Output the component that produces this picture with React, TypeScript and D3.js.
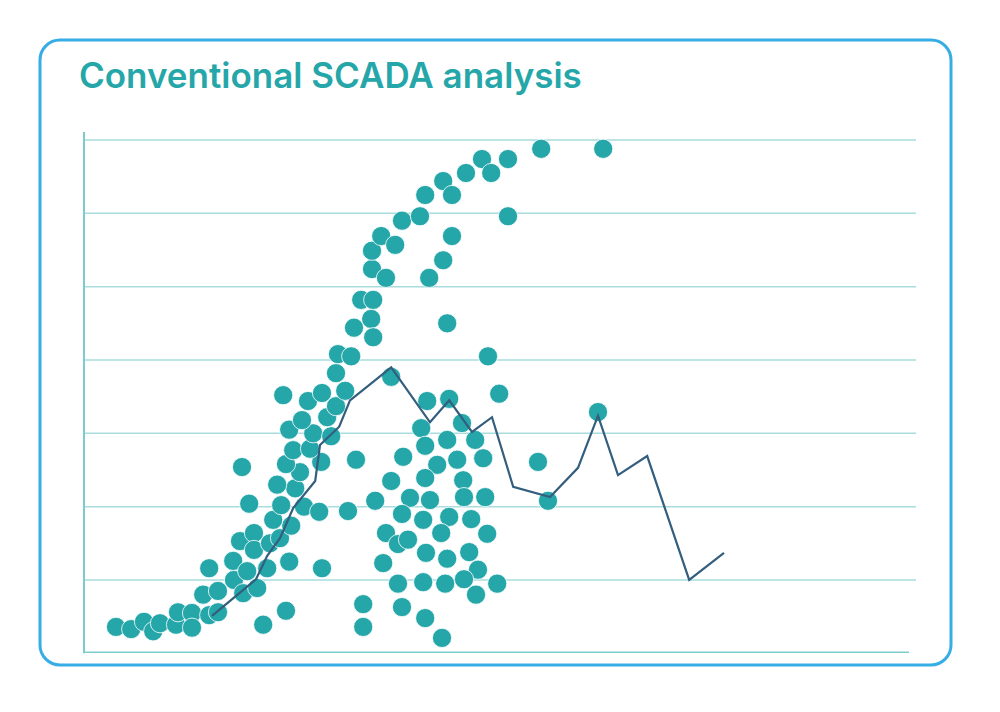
import React from "react";
import * as d3 from "d3";

// wind speed (m/s) and power (relative units)
const scatterX = [
  0.8, 1.18, 1.5, 1.73, 1.9, 2.3, 2.35, 2.7, 2.7, 3.13, 3.35, 2.98, 3.35, 3.13, 3.75, 3.98, 4.33, 3.73, 4.08, 4.58,
  3.9, 4.25, 4.25, 4.65, 4.9, 5.18, 4.73, 4.93, 5.28, 4.83, 5.5, 5.88, 5.13, 5.95, 4.13, 4.48, 5.05, 3.95, 5.4, 5.05,
  5.93, 6.8, 5.23, 5.65, 5.13, 5.73, 6.18, 5.45, 6.08, 6.3, 4.98, 5.6, 5.95, 6.53, 6.3, 6.6, 7.28, 7.55,
  6.35, 6.68, 6.75, 7.18, 7.23, 6.93, 7.23, 7.2, 7.55, 7.2, 7.43, 7.78, 7.95, 8.4, 8.53, 8.98, 9.2, 9.55, 9.95, 10.18,
  10.6, 11.43, 12.98, 10.6, 9.2, 8.98, 8.63, 9.08, 10.1,
  7.68, 8.58, 9.13, 10.38, 9.45, 8.43, 8.53, 9.08, 9.78, 7.98, 8.83, 9.33, 9.98, 7.68, 8.53, 9.48, 8.15, 8.65, 9.5,
  10.03, 7.95, 8.48, 9.13, 9.68, 7.85, 8.1, 8.93, 10.08, 8.55, 9.08, 9.63, 7.48, 9.85, 7.85, 8.48, 9.03, 9.5, 10.33,
  9.8, 6.98, 7.95, 6.98, 8.53, 8.95, 12.85, 11.35, 11.6,
];
const scatterY = [
  0.36, 0.33, 0.43, 0.3, 0.41, 0.39, 0.56, 0.55, 0.35, 0.52, 0.56, 0.8, 0.85, 1.16, 1.0, 0.82, 0.89, 1.26, 1.12, 1.16,
  1.53, 1.64, 1.41, 1.5, 1.57, 1.74, 1.82, 2.02, 2.25, 2.3, 2.0, 1.93, 1.25, 1.16, 2.04, 0.39, 0.58, 2.54, 2.47, 2.58,
  2.61, 2.64, 2.77, 2.79, 3.05, 3.0, 2.96, 3.18, 3.22, 3.37, 3.52, 3.44, 3.55, 3.58, 3.82, 1.94, 2.08, 1.64,
  4.08, 4.05, 4.44, 4.56, 4.31, 4.82, 4.82, 5.24, 5.12, 5.49, 5.69, 5.57, 5.9, 5.96, 6.25, 6.44, 6.25, 6.55, 6.74, 6.55,
  6.74, 6.88, 6.88, 5.96, 5.69, 5.36, 5.12, 4.5, 4.05,
  3.77, 3.44, 3.47, 3.54, 3.14, 3.07, 2.83, 2.91, 2.91, 2.68, 2.57, 2.64, 2.66, 2.35, 2.39, 2.36, 2.12, 2.09, 2.13,
  2.13, 1.9, 1.82, 1.86, 1.83, 1.49, 1.55, 1.64, 1.63, 1.37, 1.29, 1.38, 1.23, 1.14, 0.95, 0.97, 0.95, 1.01, 0.95,
  0.8, 0.67, 0.63, 0.36, 0.48, 0.21, 3.29, 2.61, 2.08,
];

const lineX = [3.2, 4.3, 4.58, 4.9, 5.23, 5.78, 5.9, 6.38, 6.65, 7.68, 8.65, 9.13, 9.7, 10.2, 10.73, 11.65, 12.35, 12.85, 13.35, 14.08, 15.13, 16.0];
const lineY = [0.51, 1.01, 1.33, 1.57, 1.98, 2.35, 2.84, 3.09, 3.45, 3.9, 3.15, 3.45, 3.02, 3.22, 2.27, 2.13, 2.53, 3.24, 2.43, 2.69, 1.0, 1.37];

const gridValues = [1, 2, 3, 4, 5, 6, 7];
const title = "Conventional SCADA analysis";

export default function App() {
  const x = d3.scaleLinear().domain([0, 20.6]).range([84, 908]);
  const y = d3.scaleLinear().domain([0, 7]).range([653.3, 140]);
  const line = d3
    .line<number>()
    .x((_, i) => x(lineX[i]))
    .y((_, i) => y(lineY[i]));
  const pts = scatterX.map((v, i) => ({ x: v, y: scatterY[i] }));

  return (
    <svg
      width={1000}
      height={712}
      style={{ position: "absolute", left: 0, top: 0, background: "#fff" }}
    >
      <rect x={40} y={40} width={911} height={625} rx={20} ry={20} fill="#fff" stroke="#36ade4" strokeWidth={3} />
      <text
        x={79}
        y={88}
        fill="#25a6a9"
        fontFamily="Inter, 'Noto Sans', sans-serif"
        fontWeight={600}
        fontSize={35}
      >
        {title}
      </text>
      <g>
        {gridValues.map((g) => (
          <line key={g} x1={84} x2={916} y1={y(g)} y2={y(g)} stroke="#a9dcdd" strokeWidth={1.5} />
        ))}
        <line x1={84} x2={84} y1={132} y2={y(0)} stroke="#7ecbcc" strokeWidth={2} />
        <line x1={84} x2={909} y1={y(0) - 1} y2={y(0) - 1} stroke="#7ecbcc" strokeWidth={1.5} />
      </g>
      <g>
        {pts.map((p, i) => (
          <circle key={i} cx={x(p.x)} cy={y(p.y)} r={9.6} fill="#25a6a9" stroke="#fff" strokeWidth={0.8} />
        ))}
      </g>
      <path d={line(lineX) || ""} fill="none" stroke="#345e7e" strokeWidth={2.2} strokeLinejoin="miter" />
    </svg>
  );
}
